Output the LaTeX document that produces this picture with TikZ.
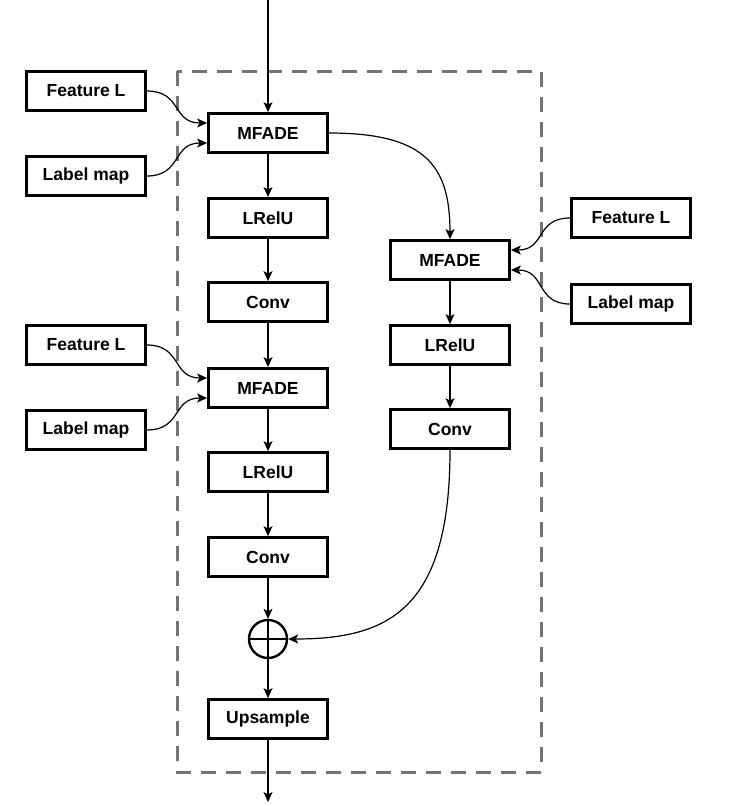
\documentclass[tikz,border=0pt]{standalone}
\usepackage{fontspec}
\setmainfont{Liberation Sans}
\usetikzlibrary{arrows.meta}
\begin{document}
\begin{tikzpicture}[x=1pt,y=-1pt,
  blk/.style={draw=black,line width=2.8pt,fill=white,minimum width=119pt,minimum height=39pt,inner sep=0pt,font=\fontsize{17.5}{20}\selectfont\bfseries},
  conn/.style={draw=black,line width=1.2pt,-{Stealth[length=10pt,width=9pt,inset=2.5pt]}},
  frame/.style={draw=black!55,line width=3pt,dash pattern=on 15pt off 10pt}
]
\useasboundingbox (0,0) rectangle (734,806);
\draw[frame] (177,71) rectangle (541,772);
% left column
\node[blk] (mf1) at (268,133) {MFADE};
\node[blk] (lr1) at (268,218) {LRelU};
\node[blk] (cv1) at (268,302) {Conv};
\node[blk] (mf2) at (268,388) {MFADE};
\node[blk] (lr2) at (268,472) {LRelU};
\node[blk] (cv2) at (268,557) {Conv};
\node[draw=black,line width=2.4pt,circle,minimum size=38pt,inner sep=0pt] (add) at (268,639) {};
\draw[line width=2.4pt] (add.north) -- (add.south) (add.west) -- (add.east);
\node[blk] (up) at (268,719) {Upsample};
% right column
\node[blk] (mfr) at (450,260) {MFADE};
\node[blk] (lrr) at (450,345) {LRelU};
\node[blk] (cvr) at (450,429) {Conv};
% inputs
\node[blk] (fl1) at (86,91) {Feature L};
\node[blk] (lm1) at (86,176) {Label map};
\node[blk] (fl2) at (86,345) {Feature L};
\node[blk] (lm2) at (86,430) {Label map};
\node[blk] (flr) at (631,218) {Feature L};
\node[blk] (lmr) at (631,304) {Label map};
\coordinate (top) at (268,0);
\coordinate (bot) at (268,802);
% connectors
\draw[conn] (top) -- (mf1.north);
\draw[conn] (mf1) -- (lr1);
\draw[conn] (lr1) -- (cv1);
\draw[conn] (cv1) -- (mf2);
\draw[conn] (mf2) -- (lr2);
\draw[conn] (lr2) -- (cv2);
\draw[conn] (cv2) -- (add);
\draw[conn] (add) -- (up);
\draw[conn] (up) -- (bot);
\draw[conn] (mfr) -- (lrr);
\draw[conn] (lrr) -- (cvr);
\draw[conn] (fl1.east) .. controls +(35,0) and +(-35,0) .. ([yshift=10pt]mf1.west);
\draw[conn] (lm1.east) .. controls +(35,0) and +(-35,0) .. ([yshift=-10pt]mf1.west);
\draw[conn] (fl2.east) .. controls +(35,0) and +(-35,0) .. ([yshift=10pt]mf2.west);
\draw[conn] (lm2.east) .. controls +(35,0) and +(-35,0) .. ([yshift=-10pt]mf2.west);
\draw[conn] (flr.west) .. controls +(-35,0) and +(35,0) .. ([yshift=10pt]mfr.east);
\draw[conn] (lmr.west) .. controls +(-35,0) and +(35,0) .. ([yshift=-10pt]mfr.east);
\draw[conn] (mf1.east) .. controls +(95,0) and +(0,-75) .. (mfr.north);
\draw[conn] (cvr.south) .. controls +(0,160) and +(100,0) .. (add.east);
\end{tikzpicture}
\end{document}
